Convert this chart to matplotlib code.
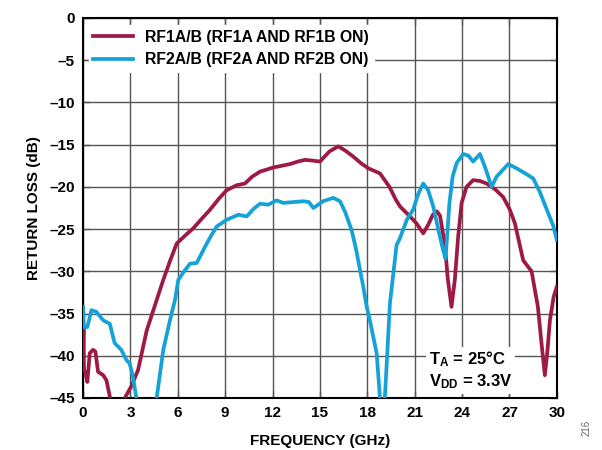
import matplotlib
matplotlib.use("Agg")
import matplotlib.pyplot as plt

plt.rcParams['font.family'] = ['Liberation Sans', 'DejaVu Sans']
plt.rcParams['font.weight'] = 'bold'
plt.rcParams['mathtext.default'] = 'regular'

# RF1A/B trace (GHz, dB)
rf1_freq = [0.0, 0.03, 0.06, 0.15, 0.27, 0.42, 0.63, 0.78, 0.95, 1.27, 1.48, 1.69,
            1.8, 2.5, 2.64, 3.06, 3.48, 4.03, 4.66, 5.08, 5.5, 5.93, 6.5, 6.98,
            7.5, 8.04, 8.6, 9.09, 9.73, 10.25, 10.7, 11.2, 12.05, 13.1, 13.6,
            14.05, 14.6, 15.0, 15.6, 16.16, 16.6, 17.1, 17.6, 18.06, 18.8, 19.4,
            19.8, 20.06, 20.7, 21.1, 21.54, 21.85, 22.15, 22.4, 22.6, 22.9, 23.1,
            23.33, 23.54, 23.75, 23.97, 24.28, 24.7, 25.13, 25.55, 26.1, 26.6,
            27.0, 27.34, 27.87, 28.4, 28.8, 29.0, 29.24, 29.4, 29.56, 29.8, 30.0]
rf1_db = [-39.0, -36.6, -41.7, -42.0, -43.1, -39.7, -39.3, -39.5, -41.9, -42.3,
          -42.9, -44.8, -47.0, -47.0, -45.0, -43.6, -41.7, -37.0, -33.4, -31.0,
          -28.8, -26.7, -25.7, -24.9, -23.8, -22.7, -21.4, -20.4, -19.8, -19.6,
          -18.8, -18.2, -17.7, -17.3, -17.0, -16.8, -16.9, -17.0, -15.8, -15.2,
          -15.7, -16.4, -17.2, -17.8, -18.4, -20.0, -21.5, -22.3, -23.5, -24.3,
          -25.5, -24.5, -23.3, -22.9, -23.4, -26.7, -31.0, -34.2, -31.0, -25.9,
          -21.9, -20.0, -19.2, -19.3, -19.6, -20.3, -21.2, -22.6, -24.3, -28.7,
          -30.0, -34.2, -38.0, -42.3, -39.5, -35.8, -33.0, -31.8]

# RF2A/B trace (GHz, dB)
rf2_freq = [0.0, 0.06, 0.15, 0.27, 0.53, 0.84, 1.27, 1.69, 2.0, 2.42, 2.74, 2.95,
            3.16, 3.37, 3.5, 4.4, 4.66, 5.08, 5.5, 5.82, 6.03, 6.4, 6.77, 7.2,
            7.72, 8.1, 8.46, 9.09, 9.83, 10.36, 10.8, 11.2, 11.73, 12.26, 12.68,
            13.3, 13.94, 14.3, 14.58, 15.2, 15.84, 16.27, 16.6, 17.0, 17.3,
            17.53, 17.74, 17.96, 18.16, 18.59, 18.8, 18.95, 19.11, 19.43, 19.85,
            20.06, 20.5, 20.9, 21.23, 21.54, 21.85, 22.17, 22.5, 22.8, 22.95,
            23.2, 23.4, 23.65, 24.07, 24.4, 24.7, 25.13, 25.44, 25.87, 26.18,
            26.92, 27.45, 28.08, 28.5, 28.92, 29.45, 29.77, 30.0]
rf2_db = [-34.2, -36.6, -36.6, -36.6, -34.6, -34.8, -35.8, -36.2, -38.5, -39.3,
          -40.5, -40.9, -42.5, -45.0, -47.0, -47.0, -45.0, -39.3, -35.8, -33.4,
          -31.0, -30.0, -29.1, -29.0, -27.1, -25.8, -24.7, -23.9, -23.3, -23.5,
          -22.6, -22.0, -22.1, -21.6, -21.9, -21.8, -21.7, -21.8, -22.5, -21.7,
          -21.3, -21.7, -23.0, -25.1, -27.5, -29.8, -31.8, -34.2, -35.8, -39.7,
          -45.0, -48.0, -45.0, -33.8, -26.9, -26.1, -23.9, -22.7, -20.8, -19.6,
          -20.4, -22.3, -25.1, -27.5, -28.5, -21.9, -18.8, -17.2, -16.1, -16.3,
          -17.0, -16.1, -17.6, -20.0, -18.8, -17.3, -17.8, -18.5, -19.0, -20.6,
          -23.1, -24.6, -26.3]

x_ticks = [0, 3, 6, 9, 12, 15, 18, 21, 24, 27, 30]
y_ticks = [0, -5, -10, -15, -20, -25, -30, -35, -40, -45]
y_labels = ["0", "\u20135", "\u201310", "\u201315", "\u201320", "\u201325",
            "\u201330", "\u201335", "\u201340", "\u201345"]

fig = plt.figure(figsize=(6.02, 4.5), dpi=100)
ax = fig.add_axes([0.138, 0.1156, 0.787, 0.8444])

ax.plot(rf1_freq, rf1_db, color="#9e1a46", lw=2.7, label="RF1A/B (RF1A AND RF1B ON)",
        solid_joinstyle="round", zorder=3)
ax.plot(rf2_freq, rf2_db, color="#16a2d7", lw=2.7, label="RF2A/B (RF2A AND RF2B ON)",
        solid_joinstyle="round", zorder=3)

ax.set_xlim(0, 30)
ax.set_ylim(-45, 0)
ax.set_xticks(x_ticks)
ax.set_yticks(y_ticks)
ax.set_yticklabels(y_labels)
ax.grid(True, color="#555555", lw=1.0)
ax.tick_params(direction="in", length=5, width=1, top=True, right=True,
               labelsize=11, pad=6, colors="#555555", labelcolor="black")
for s in ax.spines.values():
    s.set_linewidth(1.5)

ax.set_xlabel("FREQUENCY (GHz)", fontsize=11, fontweight="bold", labelpad=10)
ax.set_ylabel("RETURN LOSS (dB)", fontsize=11, fontweight="bold", labelpad=6)

leg = ax.legend(loc="upper left", bbox_to_anchor=(0.005, 0.99), frameon=True,
                fontsize=11.3, handlelength=2.5, borderpad=0.3, labelspacing=0.5,
                handletextpad=0.8, borderaxespad=0.2)
leg.get_frame().set_facecolor("white")
leg.get_frame().set_edgecolor("white")
leg.get_frame().set_alpha(1)
leg.set_zorder(5)

ax.text(0.73, 0.03, "T$_A$ = 25°C\nV$_{DD}$ = 3.3V", transform=ax.transAxes,
        fontsize=12, fontweight="bold", linespacing=1.25, zorder=6,
        bbox=dict(facecolor="white", edgecolor="none", pad=2))

fig.text(0.975, 0.03, "216", rotation=90, fontsize=7, color="#666666",
         fontweight="normal", ha="center", va="bottom")

fig.savefig("out.png", dpi=100)
